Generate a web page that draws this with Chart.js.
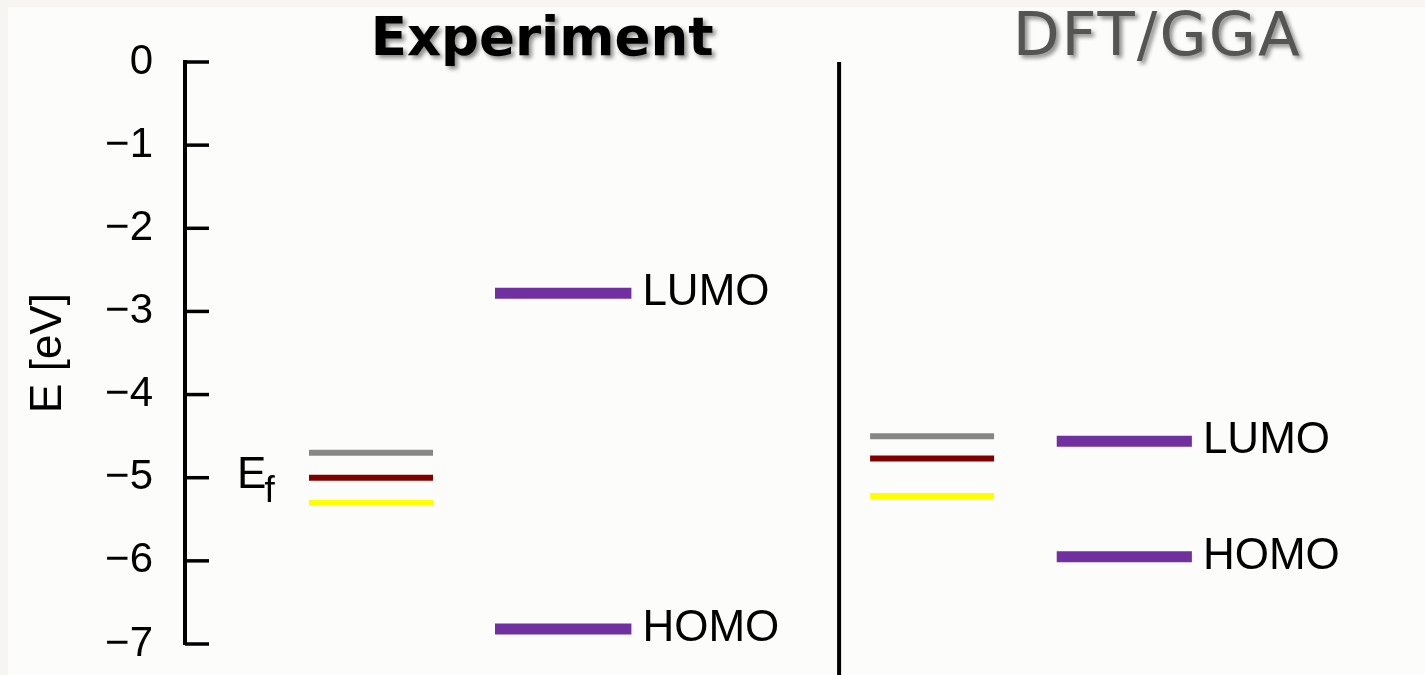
<!DOCTYPE html>
<html>
<head>
<meta charset="utf-8">
<title>Energy levels</title>
<script src="https://cdn.jsdelivr.net/npm/chart.js@4.4.1/dist/chart.umd.min.js"></script>
<style>
  html, body { margin: 0; padding: 0; background: #f6f5f1; }
  #wrap { position: absolute; left: 8px; top: 7px; width: 1417px; height: 668px; background: #fcfcfa; }
</style>
</head>
<body>
<div id="wrap"><canvas id="levels"></canvas></div>
<script>
// --- energies (eV) ---
const panelTitles = ['Experiment', 'DFT/GGA'];
const expFermi = [-4.7, -5.0, -5.3];       // three electrode Fermi levels
const dftFermi = [-4.5, -4.77, -5.22];
const orbitalNames = ['LUMO', 'HOMO'];
const expOrbitals = [-2.78, -6.82];
const dftOrbitals = [-4.56, -5.95];
const yTicks = [0, -1, -2, -3, -4, -5, -6, -7];

// --- layout along the hidden x axis (0..100) ---
const fermiColors = ['#878787', '#800000', '#ffff00'];
const orbitalColor = '#7030a0';
const panels = [
    { fermi: expFermi, orbitals: expOrbitals, fermiSpan: [10, 20], orbSpan: [25, 36], titleX: 28.8 },
    { fermi: dftFermi, orbitals: dftOrbitals, fermiSpan: [55.25, 65.25], orbSpan: [70.3, 81.2], titleX: 78.4 }
];
const dividerX = 52.75;
const efLabelX = 4.2;

const SANS = '"Liberation Sans", Arial, sans-serif';

function levelSet(span, value, color, width) {
    return {
        data: [{ x: span[0], y: value }, { x: span[1], y: value }],
        borderColor: color,
        borderWidth: width,
        pointRadius: 0,
        borderCapStyle: 'butt'
    };
}

const datasets = [];
panels.forEach(p => {
    p.fermi.forEach((v, i) => datasets.push(levelSet(p.fermiSpan, v, fermiColors[i], 6)));
    p.orbitals.forEach(v => datasets.push(levelSet(p.orbSpan, v, orbitalColor, 11)));
});
// vertical divider between the two panels, runs off the bottom
datasets.push({
    data: [{ x: dividerX, y: 0 }, { x: dividerX, y: -7.6 }],
    borderColor: '#000',
    borderWidth: 4,
    pointRadius: 0,
    borderCapStyle: 'butt',
    clip: false
});

// inward tick marks, level names, E_f and panel titles
const decorations = {
    id: 'decorations',
    afterDatasetsDraw(chart) {
        const { ctx, chartArea, scales: { x, y } } = chart;
        ctx.save();

        ctx.strokeStyle = '#000';
        ctx.lineWidth = 3.5;
        yTicks.forEach(t => {
            const py = y.getPixelForValue(t);
            ctx.beginPath();
            ctx.moveTo(chartArea.left, py);
            ctx.lineTo(chartArea.left + 24, py);
            ctx.stroke();
        });

        ctx.fillStyle = '#000';
        ctx.font = '44px ' + SANS;
        ctx.textAlign = 'left';
        ctx.textBaseline = 'middle';
        panels.forEach(p => {
            p.orbitals.forEach((v, i) => {
                ctx.fillText(orbitalNames[i], x.getPixelForValue(p.orbSpan[1]) + 11, y.getPixelForValue(v));
            });
        });

        // E_f next to the experimental Fermi levels
        const ex = x.getPixelForValue(efLabelX);
        const ey = y.getPixelForValue(expFermi[1]) + 10;
        ctx.textBaseline = 'alphabetic';
        ctx.fillText('E', ex, ey);
        const ew = ctx.measureText('E').width;
        ctx.font = '37px ' + SANS;
        ctx.fillText('f', ex + ew - 2, ey + 14);

        // panel titles with a soft drop shadow
        ctx.textAlign = 'center';
        ctx.shadowColor = 'rgba(0,0,0,0.45)';
        ctx.shadowOffsetX = 3;
        ctx.shadowOffsetY = 3;
        ctx.shadowBlur = 4;
        ctx.font = 'bold 53px "DejaVu Sans", sans-serif';
        ctx.fillStyle = '#000';
        ctx.fillText(panelTitles[0], x.getPixelForValue(panels[0].titleX), 48);
        ctx.font = '61px "DejaVu Sans", sans-serif';
        ctx.letterSpacing = '2px';
        ctx.fillStyle = '#555555';
        ctx.fillText(panelTitles[1], x.getPixelForValue(panels[1].titleX), 48);

        ctx.restore();
    }
};

new Chart(document.getElementById('levels'), {
    type: 'line',
    data: { datasets },
    options: {
        responsive: true,
        maintainAspectRatio: false,
        animation: false,
        layout: { padding: { top: 55, bottom: 31, left: 0, right: 0 } },
        plugins: {
            legend: { display: false },
            tooltip: { enabled: false }
        },
        scales: {
            x: { type: 'linear', min: 0, max: 100, display: false },
            y: {
                type: 'linear',
                min: -7,
                max: 0,
                afterFit: (s) => {
                    s.width = 177;
                    s.paddingTop = 0;
                    s.paddingBottom = 0;
                },
                afterBuildTicks: (s) => { s.ticks = yTicks.map(v => ({ value: v })); },
                border: { display: true, color: '#000', width: 4 },
                grid: { drawOnChartArea: false, drawTicks: false },
                ticks: {
                    padding: 32,
                    color: '#000',
                    font: { family: SANS, size: 42 },
                    callback: (v) => v < 0 ? '\u2212' + Math.abs(v) : String(v)
                },
                title: {
                    display: true,
                    text: 'E [eV]',
                    color: '#000',
                    font: { family: SANS, size: 44 },
                    padding: { top: 14, bottom: 0 }
                }
            }
        }
    },
    plugins: [decorations]
});
</script>
</body>
</html>
